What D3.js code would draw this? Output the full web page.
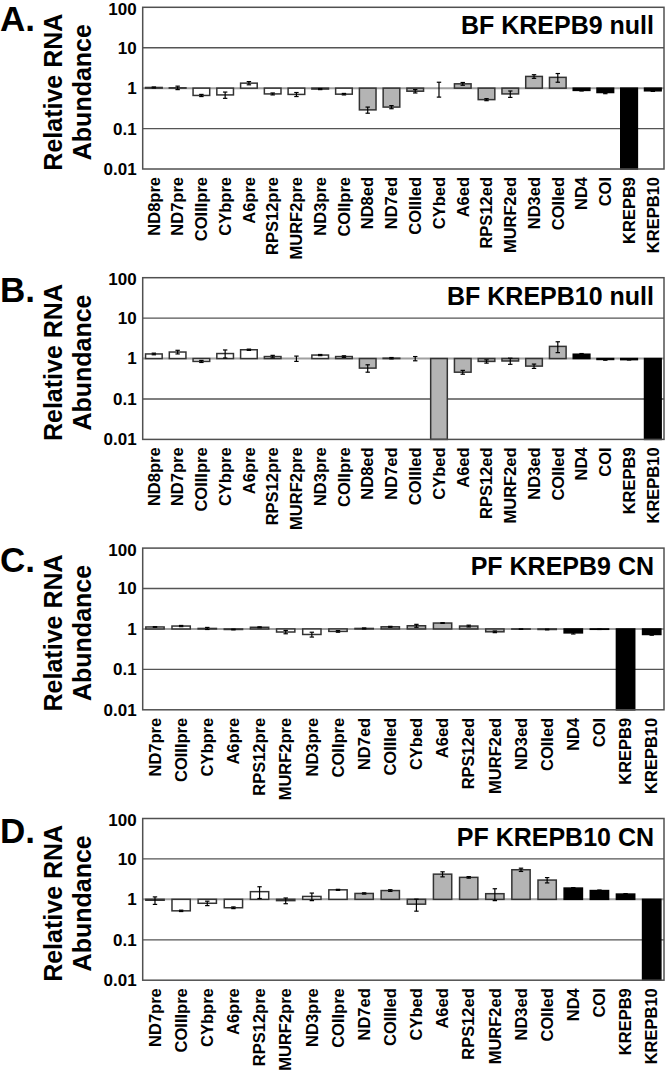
<!DOCTYPE html>
<meta charset="utf-8">
<title>Relative RNA Abundance</title>
<style>
body { margin: 0; background: #fff; }
svg { display: block; }
text {
  font-family: "Liberation Sans", Arial, sans-serif;
  font-weight: bold;
  fill: #000;
}
</style>
<svg width="666" height="1074"></svg>
<script src="https://d3js.org/d3.v7.min.js"></script>
<script>

// categories
var catsAB = ["ND8pre", "ND7pre", "COIIIpre", "CYbpre", "A6pre", "RPS12pre", "MURF2pre", "ND3pre", "COIIpre",
  "ND8ed", "ND7ed", "COIIIed", "CYbed", "A6ed", "RPS12ed", "MURF2ed", "ND3ed", "COIIed",
  "ND4", "COI", "KREPB9", "KREPB10"];
var catsCD = ["ND7pre", "COIIIpre", "CYbpre", "A6pre", "RPS12pre", "MURF2pre", "ND3pre", "COIIpre",
  "ND7ed", "COIIIed", "CYbed", "A6ed", "RPS12ed", "MURF2ed", "ND3ed", "COIIed",
  "ND4", "COI", "KREPB9", "KREPB10"];

// values (relative to 1) and error
var valsA = [1.04, 1.02, 0.66, 0.68, 1.33, 0.72, 0.70, 0.95, 0.71, 0.29, 0.34, 0.84, 1.00, 1.28, 0.52, 0.72, 1.95, 1.85, 0.88, 0.78, 0.01, 0.86];
var errA  = [0.03, 0.10, 0.04, 0.12, 0.12, 0.04, 0.08, 0.03, 0.03, 0.05, 0.03, 0.08, 0.40, 0.10, 0.03, 0.13, 0.20, 0.45, 0.03, 0.05, 0, 0.03];

var valsB = [1.30, 1.45, 0.85, 1.33, 1.65, 1.12, 1.00, 1.22, 1.12, 0.58, 1.02, 1.00, 0.01, 0.46, 0.85, 0.87, 0.65, 2.00, 1.28, 0.95, 0.94, 0.01];
var errB  = [0.06, 0.15, 0.05, 0.30, 0.06, 0.08, 0.15, 0.04, 0.05, 0.12, 0.04, 0.12, 0, 0.05, 0.08, 0.15, 0.08, 0.60, 0.05, 0.04, 0.02, 0];

var valsC = [1.12, 1.18, 1.03, 0.97, 1.10, 0.84, 0.73, 0.87, 1.03, 1.13, 1.20, 1.40, 1.18, 0.85, 0.99, 0.97, 0.80, 0.98, 0.01, 0.73];
var errC  = [0.02, 0.04, 0.06, 0.02, 0.03, 0.08, 0.10, 0.04, 0.03, 0.03, 0.10, 0.03, 0.06, 0.04, 0.01, 0.02, 0.05, 0.01, 0, 0.03];

var valsD = [0.95, 0.52, 0.80, 0.62, 1.55, 0.93, 1.18, 1.72, 1.40, 1.65, 0.76, 4.20, 3.50, 1.38, 5.40, 3.00, 1.90, 1.65, 1.35, 0.01];
var errD  = [0.20, 0.02, 0.10, 0.03, 0.50, 0.15, 0.25, 0.05, 0.05, 0.08, 0.25, 0.60, 0.15, 0.45, 0.50, 0.45, 0.05, 0.05, 0.04, 0];

var letters = ["A.", "B.", "C.", "D."];
var titles = ["BF KREPB9 null", "BF KREPB10 null", "PF KREPB9 CN", "PF KREPB10 CN"];

var yTicks = [100, 10, 1, 0.1, 0.01];
var yTickLabels = ["100", "10", "1", "0.1", "0.01"];

var panels = [
  {cats: catsAB, vals: valsA, errs: errA},
  {cats: catsAB, vals: valsB, errs: errB},
  {cats: catsCD, vals: valsC, errs: errC},
  {cats: catsCD, vals: valsD, errs: errD}
];

var svg = d3.select("svg");

var left = 142.7, right = 664,
    plotH = 161.7,
    top0 = 7.3,
    step = 270.4;

var y = d3.scaleLog().domain([0.01, 100]).range([plotH, 0]).clamp(true);

function barFill(name) {
  if (/pre$/.test(name)) return "#fff";
  if (/ed$/.test(name)) return "#b4b4b4";
  return "#000";
}

panels.forEach(function(p, i) {
  var g = svg.append("g")
      .attr("transform", "translate(0," + (top0 + i * step) + ")");

  var x = d3.scaleBand()
      .domain(p.cats)
      .range([left, right])
      .paddingInner(0.3)
      .paddingOuter(0.12);

  var data = p.cats.map(function(c, j) {
    return {name: c, v: p.vals[j], e: p.errs[j]};
  });

  // gridlines at 10 and 0.1
  g.selectAll(".grid")
    .data([10, 0.1])
    .enter().append("line")
      .attr("x1", left).attr("x2", right)
      .attr("y1", function(d) { return y(d); })
      .attr("y2", function(d) { return y(d); })
      .attr("stroke", "#555")
      .attr("stroke-width", 1.3);

  // axis line at 1
  g.append("line")
      .attr("x1", left).attr("x2", right)
      .attr("y1", y(1)).attr("y2", y(1))
      .attr("stroke", "#a0a0a0")
      .attr("stroke-width", 2);

  // bars from 1
  g.selectAll(".bar")
    .data(data)
    .enter().append("rect")
      .attr("x", function(d) { return x(d.name); })
      .attr("width", x.bandwidth())
      .attr("y", function(d) { return Math.min(y(d.v), y(1)); })
      .attr("height", function(d) { return Math.abs(y(d.v) - y(1)); })
      .attr("fill", function(d) { return barFill(d.name); })
      .attr("stroke", function(d) { return barFill(d.name) == "#000" ? "#000" : "#333"; })
      .attr("stroke-width", 1.5);

  // error bars
  var eb = g.selectAll(".err")
    .data(data.filter(function(d) { return d.e > 0; }))
    .enter().append("g")
      .attr("stroke", "#000")
      .attr("stroke-width", 1.2);

  var cx = function(d) { return x(d.name) + x.bandwidth() / 2; };
  var hi = function(d) { return y(d.v + d.e); };
  var lo = function(d) { return y(Math.max(d.v - d.e, 0.0001)); };

  eb.append("line")
      .attr("x1", cx).attr("x2", cx)
      .attr("y1", hi).attr("y2", lo);
  eb.append("line")
      .attr("x1", function(d) { return cx(d) - 2.2; })
      .attr("x2", function(d) { return cx(d) + 2.2; })
      .attr("y1", hi).attr("y2", hi);
  eb.append("line")
      .attr("x1", function(d) { return cx(d) - 2.2; })
      .attr("x2", function(d) { return cx(d) + 2.2; })
      .attr("y1", lo).attr("y2", lo);

  // plot border
  g.append("rect")
      .attr("x", left).attr("y", 0)
      .attr("width", right - left).attr("height", plotH)
      .attr("fill", "none")
      .attr("stroke", "#505050")
      .attr("stroke-width", 1.5);

  // y tick labels
  g.selectAll(".ytick")
    .data(yTicks)
    .enter().append("text")
      .attr("x", left - 6)
      .attr("y", function(d) { return y(d); })
      .attr("dy", function(d) { return d == 100 ? "0.45em" : "0.35em"; })
      .attr("text-anchor", "end")
      .style("font-size", "17px")
      .text(function(d, k) { return yTickLabels[k]; });

  // category labels
  g.selectAll(".xlab")
    .data(p.cats)
    .enter().append("text")
      .attr("transform", function(d) {
        return "translate(" + (x(d) + x.bandwidth() / 2) + "," + (plotH + 8) + ") rotate(-90)";
      })
      .attr("dy", "0.35em")
      .attr("text-anchor", "end")
      .style("font-size", "16.5px")
      .text(function(d) { return d; });

  // y title
  g.append("text")
      .attr("transform", "translate(62," + (plotH / 2 + 4) + ") rotate(-90)")
      .attr("text-anchor", "middle")
      .style("font-size", "25px")
      .text("Relative RNA");
  g.append("text")
      .attr("transform", "translate(91," + (plotH / 2 + 4) + ") rotate(-90)")
      .attr("text-anchor", "middle")
      .style("font-size", "25px")
      .text("Abundance");

  // panel letter
  g.append("text")
      .attr("x", 0).attr("y", 24)
      .style("font-size", "35px")
      .text(letters[i]);

  // panel title
  g.append("text")
      .attr("x", right - 10).attr("y", 27)
      .attr("text-anchor", "end")
      .style("font-size", "25px")
      .text(titles[i]);
});

</script>
